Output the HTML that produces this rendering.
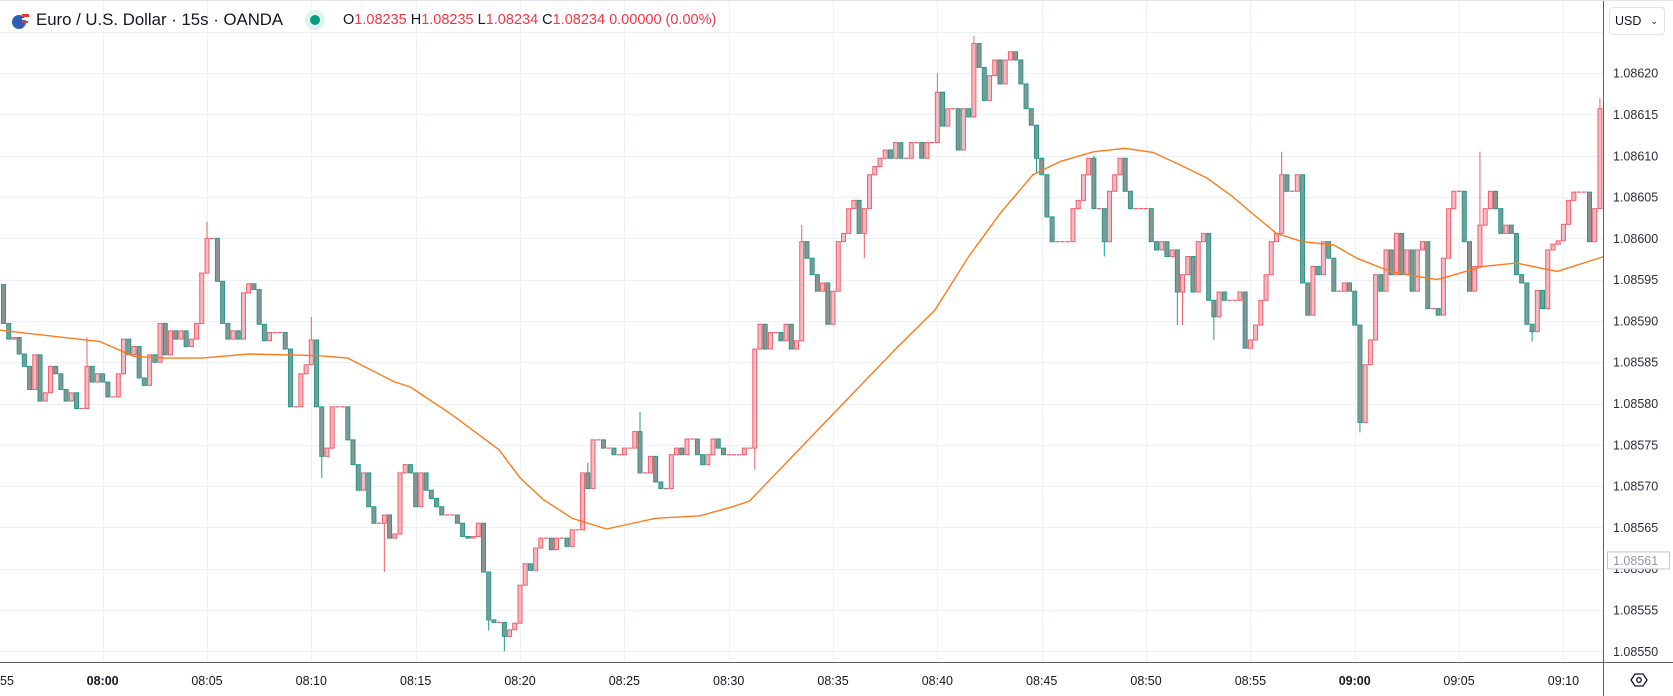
<!DOCTYPE html>
<html><head><meta charset="utf-8"><style>
html,body{margin:0;padding:0;background:#fff;width:1673px;height:696px;overflow:hidden;font-family:"Liberation Sans",sans-serif;}
#root{position:relative;width:1673px;height:696px;}
svg{position:absolute;left:0;top:0;}
.hdr{position:absolute;top:10px;height:20px;font-size:14.5px;line-height:20px;color:#131722;white-space:nowrap;}
</style></head><body>
<div id="root">
<svg id="chart" width="1673" height="696"></svg>
<div class="hdr" style="left:10px;"><svg width="20" height="20" style="position:relative;top:1px"><circle cx="9" cy="11" r="7" fill="#2f5db5"/><rect x="12" y="3" width="7" height="3" fill="#e53935"/><rect x="12" y="7" width="7" height="2" fill="#fff"/><rect x="12" y="10" width="6" height="2" fill="#e53935"/></svg></div>
<div class="hdr" style="left:36px;font-size:16.8px;">Euro / U.S. Dollar · 15s · OANDA</div>
<div style="position:absolute;left:305px;top:10px;width:20px;height:20px;border-radius:10px;background:#dff3ee;"><div style="position:absolute;left:5px;top:5px;width:10px;height:10px;border-radius:5px;background:#089981;"></div></div>
<div class="hdr" style="left:343px;font-size:14.5px;">O<span style="color:#f23645">1.08235</span> H<span style="color:#f23645">1.08235</span> L<span style="color:#f23645">1.08234</span> C<span style="color:#f23645">1.08234</span> <span style="color:#f23645">0.00000 (0.00%)</span></div>
<div style="position:absolute;left:1609px;top:7px;width:56px;height:28px;border:1px solid #e0e3eb;border-radius:4px;box-sizing:border-box;font-size:12.5px;line-height:26px;padding-left:5px;color:#131722;">USD <span style="position:absolute;right:6px;font-size:9px">&#8964;</span></div>
</div>
<script>
const closes=[89.7,87.8,88,86,84.5,81.7,85.9,80.3,81.3,84.5,83.6,81.7,80.3,81.3,79.4,79.4,84.5,82.6,83.6,82.6,
80.8,80.8,83.6,87.8,85.9,86.9,83.1,82.2,85.9,85,89.7,85.9,88.8,87.8,88.8,86.9,87.8,89.7,95.8,100,
100,94.8,89.7,87.8,88.8,87.8,93.4,94.5,93.8,89.6,87.6,88.6,88.6,88.6,86.6,79.6,79.6,83.6,84.7,87.7,
79.6,73.6,74.6,79.6,79.6,79.6,75.6,72.6,69.5,71.6,67.5,65.5,65.5,66.5,63.7,64.2,71.6,72.6,71.6,67.5,
71.6,69.5,68.5,67.5,66.5,66.5,66.5,65.5,63.9,63.7,63.9,65.5,59.6,53.8,53.5,53.5,51.8,52.6,53.4,58,
60.6,59.8,62.5,63.7,63.7,62.3,63.7,63.7,62.7,64.7,64.7,71.6,69.7,75.6,75.6,74.6,74.6,73.8,73.8,74.6,
74.6,76.6,71.6,71.6,73.6,70.5,69.7,69.7,73.8,74.6,73.8,75.7,75.7,73.8,72.6,73.8,75.7,74.6,73.8,73.8,
73.8,73.8,74.6,74.6,86.6,89.6,86.6,88.6,88.6,87.6,89.6,86.6,87.6,99.6,97.6,95.6,93.6,94.6,89.6,93.6,
99.6,100.6,103.6,104.6,100.6,103.6,107.7,108.7,109.7,110.7,109.7,111.6,109.7,109.7,111.6,111.6,109.7,111.6,111.6,117.7,
113.6,115.7,115.7,110.7,115.7,114.7,123.6,120.7,116.7,119.7,121.6,118.7,121.6,122.6,121.6,118.7,115.7,113.7,109.7,107.7,
102.6,99.6,99.6,99.6,99.6,103.6,104.6,107.7,109.7,103.6,103.6,99.6,105.7,107.7,109.7,105.7,103.6,103.6,103.6,103.6,
99.6,98.6,99.6,97.8,98.6,93.5,95.6,97.8,93.5,99.6,100.6,92.5,90.5,93.5,92.5,92.5,92.5,93.5,86.7,87.7,
89.5,92.5,95.6,99.6,100.6,107.7,105.7,105.7,107.7,94.6,90.7,96.6,95.6,99.6,97.6,93.6,93.6,94.6,93.6,89.5,
77.7,84.7,87.7,95.6,93.6,98.6,95.6,100.6,95.6,98.6,93.6,98.6,99.6,91.5,91.5,90.7,97.6,103.6,105.7,105.7,
99.6,93.6,96.6,101.6,103.6,105.7,103.6,100.6,101.6,100.6,95.6,94.6,89.6,88.7,93.7,91.5,98.6,99.3,99.7,101.7,
104.6,105.6,105.6,105.6,99.6,103.6,115.7];
const firstOpen=94.4;
const wickIdx=[17,40,60,62,74,94,97,113,123,145,154,166,180,187,199,210,212,226,227,233,246,261,284,294,307];
const wickHi=[88,102,90.5,null,null,null,null,72.8,79,null,101.6,null,120,124.5,null,110,null,null,null,null,110.5,null,110.5,null,117];
const wickLo=[null,null,null,71,59.6,52.5,50,null,null,72,null,97.6,null,null,108,null,97.8,89.5,89.5,87.7,null,76.5,null,87.5,null];
const maK=[0,19.5,26,32,39,48,61,67,76,79,86.6,93,96,100,104.4,110,116.6,126,134.5,140.8,144,172,179.5,186,192,198.3,203.5,210,216,221.4,226.5,231.7,236.7,240,245,250,256,260.4,266.8,271.9,275.8,279.6,284.6,291,298.8,307.8];
const maV=[88.9,87.5,85.7,85.5,85.5,86,85.8,85.5,82.6,82,78.8,75.8,74.4,71,68.4,66.1,64.8,66.1,66.4,67.5,68.2,86.6,91.3,97.8,103,107.7,109.3,110.5,110.9,110.4,108.9,107.3,105,103.2,100.6,99.6,99.2,97.6,96,95.4,95,95.7,96.6,97,96,97.8];
const priceTicks=["1.08620","1.08615","1.08610","1.08605","1.08600","1.08595","1.08590","1.08585","1.08580","1.08575","1.08570","1.08565","1.08560","1.08555","1.08550"];
const priceTickVals=[120,115,110,105,100,95,90,85,80,75,70,65,60,55,50];
const timeTicks=["55","08:00","08:05","08:10","08:15","08:20","08:25","08:30","08:35","08:40","08:45","08:50","08:55","09:00","09:05","09:10"];
const timeTickK=[0,20,40,60,80,100,120,140,160,180,200,220,240,260,280,300];
const lastPrice=61;

const NS="http://www.w3.org/2000/svg";
const svg=document.getElementById('chart');
const PL=0,PR=1603,PT=0,PB=662;
function yS(v){return 73.2+(120-v)*8.258;}
function xS(k){return -1.7+k*5.217;}
function mk(tag,attrs,parent){const e=document.createElementNS(NS,tag);for(const a in attrs)e.setAttribute(a,attrs[a]);(parent||svg).appendChild(e);return e;}

const grid=mk('g',{});


for(let v=125;v>=45;v-=5){const y=Math.round(yS(v))+0.5;if(y<PT||y>PB)continue;
 const l=mk('line',{x1:0,x2:PR,y1:y,y2:y,stroke:'#edf1f6','stroke-width':1},grid);
 
 }
for(let i=0;i<timeTickK.length;i++){const x=Math.round(xS(timeTickK[i]))+0.5;
 const l=mk('line',{x1:x,x2:x,y1:0,y2:PB,stroke:'#edf1f6','stroke-width':1},grid);
 
 }

const cg=mk('g',{});


for(let i=0;i<closes.length;i++){
 const k=i+1;const o=i===0?firstOpen:closes[i-1];const c=closes[i];
 let hi=Math.max(o,c),lo=Math.min(o,c);
 const wi=wickIdx.indexOf(k);
 if(wi>=0){if(wickHi[wi]!==null)hi=Math.max(hi,wickHi[wi]);if(wickLo[wi]!==null)lo=Math.min(lo,wickLo[wi]);}
 const up=c>=o;const x=xS(k);
 const stroke=up?'#ef5f6b':'#1f9c8c';const fill=up?'#f7b8c2':'#8c9492';
 const g=mk('g',{},cg);
 
 
 if(hi>lo+0.01)mk('line',{x1:x,x2:x,y1:yS(hi),y2:yS(lo),stroke:stroke,'stroke-width':1},g);
 const yt=yS(Math.max(o,c)),yb=yS(Math.min(o,c));
 if(yb-yt<1.5){mk('line',{x1:x-2.2,x2:x+2.2,y1:yt,y2:yt,stroke:stroke,'stroke-width':1.2},g);}
 else mk('rect',{x:x-2,y:yt,width:4,height:yb-yt,fill:fill,stroke:stroke,'stroke-width':1},g);
}
let d='';for(let i=0;i<maK.length;i++){d+=(i?'L':'M')+xS(maK[i]).toFixed(1)+' '+yS(maV[i]).toFixed(1);}
const ma=mk('path',{d:d,fill:'none',stroke:'#ff7a1a','stroke-width':1.4,'stroke-linejoin':'round'});



const ax=mk('g',{});


mk('rect',{x:PR,y:0,width:1673-PR,height:696,fill:'#fff'},ax);
mk('rect',{x:0,y:PB,width:1673,height:34,fill:'#fff'},ax);
mk('line',{x1:PR+0.5,x2:PR+0.5,y1:0,y2:696,stroke:'#5d606b','stroke-width':1},ax);
mk('line',{x1:0,x2:1673,y1:PB+0.5,y2:PB+0.5,stroke:'#5d606b','stroke-width':1},ax);
mk('line',{x1:0,x2:1673,y1:0.5,y2:0.5,stroke:'#e0e3eb','stroke-width':1},ax);
for(let i=0;i<priceTicks.length;i++){
 const t=mk('text',{x:1613,y:yS(priceTickVals[i])+4.5,'font-size':12.5,fill:'#2a2e39','font-family':'Liberation Sans, sans-serif'},ax);
 t.textContent=priceTicks[i];
 
 }
const lp=mk('g',{},ax);


mk('rect',{x:1607.5,y:yS(lastPrice)-8.5,width:62,height:17,fill:'#fff',stroke:'#c3c6ce','stroke-width':1},lp);
const lpt=mk('text',{x:1613,y:yS(lastPrice)+4.5,'font-size':12.5,fill:'#9598a1','font-family':'Liberation Sans, sans-serif'},lp);
lpt.textContent='1.08561';
for(let i=0;i<timeTicks.length;i++){
 const x=xS(timeTickK[i]);const bold=(timeTicks[i]==='08:00'||timeTicks[i]==='09:00');
 const t=mk('text',{x:timeTicks[i]==='55'?0:x,y:685,'text-anchor':timeTicks[i]==='55'?'start':'middle','font-size':12.5,fill:'#131722','font-weight':bold?'bold':'normal','font-family':'Liberation Sans, sans-serif'},ax);
 t.textContent=timeTicks[i];
 
 }
const st=mk('g',{},ax);


mk('polygon',{points:'1631,680 1635,674 1643,674 1647,680 1643,686 1635,686',fill:'none',stroke:'#131722','stroke-width':1.3},st);
mk('circle',{cx:1639,cy:680,r:2.3,fill:'none',stroke:'#131722','stroke-width':1.3},st);
</script>
</body></html>
